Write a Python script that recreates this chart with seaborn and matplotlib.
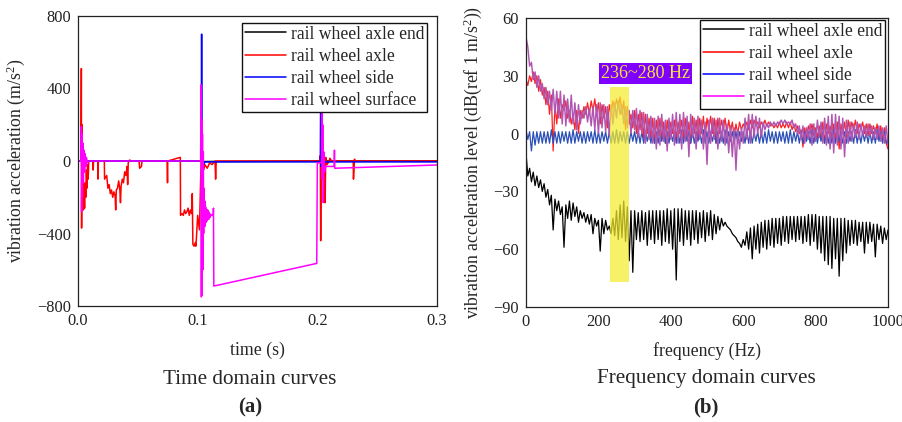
import numpy as np
import pandas as pd
import matplotlib
matplotlib.use("Agg")
import matplotlib.pyplot as plt
from matplotlib.patches import Rectangle
from matplotlib.ticker import MultipleLocator, FixedLocator, FixedFormatter
import seaborn as sns

# ---------------- data: time domain (t [s], acceleration [m/s^2]) ----------------
series_names = ["rail wheel axle end", "rail wheel axle", "rail wheel side", "rail wheel surface"]

axle_end_time = [(0.0, 0), (0.1030, 0), (0.1035, 3), (0.1040, -3), (0.2030, 0), (0.3, 0)]

axle_time = [
    (0.0, 0), (0.0025, 0), (0.0028, 510), (0.0030, -370), (0.0033, 200), (0.0036, -250),
    (0.0040, -100), (0.0045, -270), (0.0050, -150), (0.0055, -260), (0.0060, -120),
    (0.0065, -200), (0.0070, -50), (0.0075, -150), (0.0080, -20), (0.0085, -100),
    (0.0090, 0), (0.0125, 0), (0.0127, -50), (0.0130, 0), (0.0165, 0), (0.0167, -100),
    (0.0170, 0), (0.0220, 0), (0.0222, -100), (0.0240, -80), (0.0250, -150), (0.0260, -130),
    (0.0270, -180), (0.0280, -160), (0.0290, -200), (0.0300, -170), (0.0310, -190),
    (0.0315, -270), (0.0320, -160), (0.0330, -150), (0.0340, -110), (0.0350, -160),
    (0.0355, -230), (0.0360, -140), (0.0370, -100), (0.0380, -120), (0.0390, -60),
    (0.0400, -80), (0.0410, -30), (0.0415, -130), (0.0420, -10), (0.0430, 5), (0.0450, 0),
    (0.0510, 0), (0.0515, -40), (0.0530, -30), (0.0535, 0), (0.0745, 0), (0.0748, -120),
    (0.0750, 0), (0.0855, 20), (0.0857, -300), (0.0870, -290), (0.0880, -300),
    (0.0890, -270), (0.0900, -290), (0.0910, -280), (0.0920, -260), (0.0930, -300),
    (0.0940, -270), (0.0950, -290), (0.0955, -180), (0.0960, -460), (0.0970, -470),
    (0.0980, -450), (0.0985, -470), (0.0990, -420), (0.1000, -300), (0.1015, -380),
    (0.1025, -100), (0.1035, 70), (0.1040, -30), (0.1050, -50), (0.1060, -20),
    (0.1080, -40), (0.1100, -10), (0.1120, -20), (0.1145, 0), (0.1150, -100), (0.1155, 0),
    (0.2020, 0), (0.2025, 30), (0.2028, -440), (0.2032, 20), (0.2045, -100), (0.2050, 30),
    (0.2058, -50), (0.2065, -230), (0.2070, 20), (0.2080, -20), (0.2100, 0), (0.2105, 15),
    (0.2120, 0), (0.2300, 0), (0.2302, -100), (0.2310, 10), (0.2320, 0), (0.3, 0),
]

side_time = [
    (0.0, 0), (0.1030, 0), (0.1033, 700), (0.1036, -30), (0.1040, 20), (0.1050, -20),
    (0.1060, -5), (0.2025, -5), (0.2028, 380), (0.2032, -30), (0.2040, 10), (0.2050, -5),
    (0.3, -5),
]

surface_time = [
    (0.0, 0), (0.0025, 0), (0.0028, 190), (0.0030, -280), (0.0033, 150), (0.0036, -200),
    (0.0040, 100), (0.0045, -120), (0.0050, 60), (0.0055, -60), (0.0060, 40),
    (0.0065, -30), (0.0070, 20), (0.0080, -10), (0.0090, 0), (0.1025, 0), (0.1028, 420),
    (0.1031, -750), (0.1034, 230), (0.1037, -740), (0.1040, 150), (0.1043, -600),
    (0.1047, 50), (0.1050, -400), (0.1053, -150), (0.1056, -350), (0.1059, -220),
    (0.1062, -360), (0.1065, -250), (0.1068, -340), (0.1071, -260), (0.1074, -330),
    (0.1077, -270), (0.1080, -330), (0.1084, -270), (0.1088, -320), (0.1092, -280),
    (0.1096, -320), (0.1100, -290), (0.1105, -310), (0.1110, -295), (0.1120, -300),
    (0.1130, -300), (0.1132, -260), (0.1135, -690), (0.1995, -565),
    (0.2000, -10), (0.2035, -10), (0.2038, 460), (0.2042, -100), (0.2045, 200),
    (0.2050, -230), (0.2055, 50), (0.2060, -60), (0.2070, -30), (0.2140, -30),
    (0.2143, 60), (0.2146, -40), (0.3, -22),
]

# ---------------- data: frequency domain (f [Hz], level [dB]) ----------------
freq_hz = list(range(0, 1001, 5))

axle_end_db = [
    -10, -22, -18, -25, -20, -27, -22, -28, -24, -30,
    -26, -33, -29, -37, -32, -50, -34, -40, -35, -42,
    -38, -59, -37, -44, -35, -45, -36, -43, -38, -46,
    -40, -44, -41, -46, -42, -47, -42, -52, -44, -48,
    -45, -61, -44, -52, -45, -50, -48, -52, -44, -53,
    -40, -55, -37, -54, -35, -56, -38, -66, -40, -72,
    -40, -55, -41, -56, -40, -55, -41, -58, -40, -55,
    -40, -57, -40, -55, -40, -58, -40, -56, -39, -57,
    -40, -60, -39, -76, -39, -56, -39, -58, -40, -55,
    -40, -58, -40, -55, -40, -57, -41, -54, -40, -56,
    -41, -53, -40, -55, -42, -52, -43, -50, -44, -48,
    -46, -48, -49, -50, -52, -53, -54, -56, -57, -59,
    -55, -58, -51, -60, -49, -65, -48, -60, -47, -62,
    -46, -59, -45, -60, -45, -58, -44, -59, -44, -57,
    -44, -58, -43, -56, -43, -57, -43, -55, -43, -56,
    -43, -55, -43, -57, -43, -56, -42, -58, -42, -56,
    -42, -60, -43, -62, -43, -66, -43, -68, -43, -70,
    -44, -65, -44, -74, -44, -66, -44, -62, -45, -58,
    -45, -57, -45, -58, -46, -56, -46, -62, -46, -57,
    -46, -56, -47, -64, -47, -55, -48, -57, -49, -55,
    -50,
]

axle_db = [
    28, 25, 30, 27, 32, 26, 30, 22, 28, 20,
    24, 15, 22, 10, 20, -9, 15, 5, 18, 8,
    15, 12, 17, 8, 12, 5, 10, 2, 12, 0,
    12, 8, 14, 10, 16, 10, 17, 12, 18, 10,
    16, 5, 15, 8, 14, 3, 15, 10, 17, 12,
    18, 14, 19, 10, 17, 2, 14, 5, 10, 3,
    12, 0, 10, 2, 11, -2, 10, 0, 8, -2,
    8, -5, 7, -1, 8, -3, 6, -5, 7, -2,
    6, 0, 7, -3, 6, 0, 7, -2, 8, -3,
    6, -5, 9, 0, 7, -3, 8, 0, 9, -2,
    8, 2, 9, 0, 8, -5, 8, 0, 7, 2,
    8, 0, 7, 1, 6, -2, 5, 0, 6, 2,
    5, 3, 6, 2, 7, 3, 7, 4, 6, 3,
    6, 4, 7, 4, 6, 4, 5, 3, 5, 3,
    6, 3, 5, 3, 6, 3, 6, 2, 5, 1,
    4, 0, 2, -7, 3, -2, 4, 0, 5, -1,
    3, -2, 4, -3, 6, -5, 5, 0, 4, -2,
    5, -3, 6, -8, 5, 0, 6, -2, 7, 0,
    6, 2, 7, 0, 5, 2, 6, 0, 5, -1,
    5, 0, 4, 0, 5, -2, 4, -3, 3, -5,
    -8,
]

side_db = [
    2, -3, 1, -9, 1, -6, 1, -5, 1, -5,
    1, -5, 1, -5, 2, -5, 1, -5, 1, -5,
    1, -4, 1, -5, 1, -5, 2, -5, 1, -4,
    1, -5, 1, -5, 1, -4, 1, -5, 2, -5,
    1, -5, 1, -4, 1, -5, 1, -5, 1, -5,
    2, -5, 1, -4, 1, -5, 1, -5, 1, -4,
    1, -5, 2, -5, 1, -5, 1, -4, 1, -5,
    1, -5, 1, -5, 2, -4, 1, -5, 1, -5,
    1, -4, 1, -5, 1, -5, 2, -5, 1, -4,
    1, -5, 1, -5, 1, -4, 1, -5, 2, -5,
    1, -5, 1, -4, 1, -5, 1, -5, 1, -5,
    2, -5, 1, -4, 1, -5, 1, -5, 1, -4,
    1, -5, 2, -5, 1, -5, 1, -4, 1, -5,
    1, -5, 1, -5, 2, -4, 1, -5, 1, -5,
    1, -4, 1, -5, 1, -5, 2, -5, 1, -4,
    1, -5, 1, -5, 1, -4, 1, -5, 2, -5,
    1, -5, 1, -4, 1, -5, 1, -5, 1, -5,
    2, -5, 1, -4, 1, -5, 1, -5, 1, -4,
    1, -5, 2, -5, 1, -5, 1, -4, 1, -5,
    1, -5, 1, -5, 2, -4, 1, -5, 1, -5,
    -3,
]

surface_db = [
    50, 45, 35, 37, 28, 32, 24, 30, 22, 26,
    18, 24, 15, 22, 12, 23, 10, 22, 8, 22,
    5, 20, 4, 18, 6, 20, 5, 16, 2, 15,
    5, 12, 8, 14, 6, 13, 4, 14, 2, 15,
    0, 16, 3, 15, 1, 14, -1, 15, 5, 16,
    8, 17, 10, 15, 5, 14, 3, 12, 0, 12,
    2, 13, -2, 12, 0, 11, -5, 10, -3, 9,
    -5, 8, -8, 9, -6, 10, -4, 7, -9, 8,
    -3, 10, -6, 11, -5, 10, -8, 11, -4, 9,
    -12, 10, -2, 8, -8, 9, -3, 7, -8, 6,
    -16, 7, -5, 8, -3, 7, -8, 8, -4, 7,
    -6, 5, -10, 4, -12, 3, -19, 2, -8, 3,
    -5, 8, -3, 10, -5, 10, -2, 9, 0, 8,
    -2, 6, 2, 5, 3, 6, 4, 6, 4, 6,
    5, 7, 5, 7, 5, 6, 5, 7, 3, 5,
    0, 4, -3, 4, -5, 3, -3, 5, -6, 5,
    -4, 7, -2, 6, -5, 8, -6, 9, -8, 10,
    -10, 10, -6, 9, -8, 8, -12, 7, -5, 6,
    -4, 5, -2, 6, -3, 5, -1, 4, -2, 5,
    -1, 4, -3, 3, -3, 4, -4, 3, -5, 4,
    -6,
]

band_label = "236~280 Hz"
band_lo, band_hi = 233, 284
band_bottom, band_top = -77, 24

x_ticks_time = [0.0, 0.1, 0.2, 0.3]
y_ticks_time = [-800, -400, 0, 400, 800]
x_ticks_freq = [0, 200, 400, 600, 800, 1000]
y_ticks_freq = [-90, -60, -30, 0, 30, 60]

# ---------------- style ----------------
sns.set_style("white")
plt.rcParams["font.family"] = ["Liberation Serif", "DejaVu Serif"]
plt.rcParams["mathtext.fontset"] = "custom"
plt.rcParams["mathtext.rm"] = "Liberation Serif"
plt.rcParams["mathtext.it"] = "Liberation Serif:italic"
plt.rcParams["xtick.direction"] = "in"
plt.rcParams["ytick.direction"] = "in"

fig = plt.figure(figsize=(9.03, 4.22), dpi=100)
axL = fig.add_axes([78 / 903, 1 - 306 / 422, 359 / 903, 290 / 422])
axR = fig.add_axes([526 / 903, 1 - 307 / 422, 362 / 903, 289 / 422])

time_colors = ["#000000", "#ff0000", "#0000ff", "#ff00ff"]
freq_colors = ["#000000", "#ff2020", "#2a4fb8", "#b055b2"]
legend_colors = ["#000000", "#ff0000", "#0000ff", "#ff00ff"]

time_data = [axle_end_time, axle_time, side_time, surface_time]
for name, data, col in zip(series_names, time_data, time_colors):
    df = pd.DataFrame(data, columns=["t", "a"])
    sns.lineplot(data=df, x="t", y="a", ax=axL, color=col, lw=1.1, label=name,
                 estimator=None, sort=False)

freq_data = [axle_end_db, axle_db, side_db, surface_db]
freq_lw = [0.9, 0.9, 0.9, 1.05]
for name, vals, col, lw in zip(series_names, freq_data, freq_colors, freq_lw):
    df = pd.DataFrame({"f": freq_hz, "L": vals})
    sns.lineplot(data=df, x="f", y="L", ax=axR, color=col, lw=lw, label=name,
                 estimator=None, sort=False)

axR.add_patch(Rectangle((band_lo, band_bottom), band_hi - band_lo, band_top - band_bottom,
                        facecolor="#f4ec2c", alpha=0.72, edgecolor="none", zorder=5))
axR.text(330, 31.2, band_label, ha="center", va="center", fontsize=13, color="#f2e33a",
         zorder=6, bbox=dict(boxstyle="square,pad=0.12", facecolor="#7f00ff", edgecolor="none"))

# ---------------- axes formatting ----------------
axL.set_xlim(0, 0.3)
axL.set_ylim(-800, 800)
axL.xaxis.set_major_locator(FixedLocator(x_ticks_time))
axL.xaxis.set_major_formatter(FixedFormatter([f"{v:.1f}" for v in x_ticks_time]))
axL.xaxis.set_minor_locator(MultipleLocator(0.05))
axL.yaxis.set_major_locator(FixedLocator(y_ticks_time))
axL.yaxis.set_minor_locator(MultipleLocator(200))
axL.set_xlabel("time (s)", fontsize=12.8, labelpad=9)
axL.set_ylabel("vibration acceleration (m/s$^2$)", fontsize=12.8)
axL.yaxis.set_label_coords(-0.142, 0.5)

axR.set_xlim(0, 1000)
axR.set_ylim(-90, 60)
axR.xaxis.set_major_locator(FixedLocator(x_ticks_freq))
axR.xaxis.set_minor_locator(MultipleLocator(100))
axR.yaxis.set_major_locator(FixedLocator(y_ticks_freq))
axR.yaxis.set_minor_locator(MultipleLocator(15))
axR.set_xlabel("frequency (Hz)", fontsize=12.8, labelpad=9)
axR.set_ylabel("vibration acceleration level (dB(ref 1 m/s$^2$))", fontsize=12.8)
axR.yaxis.set_label_coords(-0.116, 0.5)

for ax in (axL, axR):
    for s in ax.spines.values():
        s.set_visible(True)
        s.set_color("#222222")
        s.set_linewidth(0.9)
    ax.tick_params(which="major", length=3.5, width=0.8, labelsize=11.8, pad=5,
                   colors="#222222", labelcolor="#222222")
    ax.tick_params(which="minor", length=2, width=0.7, colors="#222222")
    ax.tick_params(top=False, right=False, which="both")

legL = axL.legend(loc="upper right", bbox_to_anchor=(0.972, 0.976), borderaxespad=0,
                  fontsize=12.7, frameon=True, fancybox=False, edgecolor="#111111",
                  framealpha=1, borderpad=0.15, handlelength=2.3, handletextpad=0.3,
                  labelspacing=0.3)
legR = axR.legend(loc="upper right", bbox_to_anchor=(0.992, 0.993), borderaxespad=0,
                  fontsize=12.7, frameon=True, fancybox=False, edgecolor="#111111",
                  framealpha=1, borderpad=0.15, handlelength=2.3, handletextpad=0.3,
                  labelspacing=0.3)
for leg in (legL, legR):
    leg.get_frame().set_linewidth(1.0)
    for line, col in zip(leg.get_lines(), legend_colors):
        line.set_color(col)
        line.set_linewidth(1.1)

fig.text(250 / 903, 1 - 379 / 422, "Time domain curves", ha="center", va="center", fontsize=15.2)
fig.text(250 / 903, 1 - 407 / 422, "(a)", ha="center", va="center", fontsize=15, fontweight="bold")
fig.text(706 / 903, 1 - 379 / 422, "Frequency domain curves", ha="center", va="center", fontsize=15.2)
fig.text(706 / 903, 1 - 407 / 422, "(b)", ha="center", va="center", fontsize=15, fontweight="bold")

fig.savefig("out.png", dpi=100)
